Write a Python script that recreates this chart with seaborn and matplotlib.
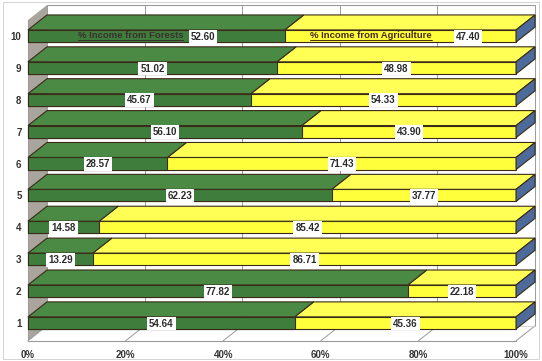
import matplotlib
matplotlib.use("Agg")
import matplotlib.pyplot as plt
import seaborn as sns
import pandas as pd
from matplotlib.patches import Polygon

# ---- data ----
categories = ["1", "2", "3", "4", "5", "6", "7", "8", "9", "10"]
forests = [54.64, 77.82, 13.29, 14.58, 62.23, 28.57, 56.10, 45.67, 51.02, 52.60]
agriculture = [45.36, 22.18, 86.71, 85.42, 37.77, 71.43, 43.90, 54.33, 48.98, 47.40]
x_ticks = [0, 20, 40, 60, 80, 100]
x_tick_labels = ["0%", "20%", "40%", "60%", "80%", "100%"]
series_names = ["% Income from Forests", "% Income from Agriculture"]

GREEN = "#3f7d3c"
GREEN_TOP = "#4a8a45"
YELLOW = "#ffff3c"
YELLOW_TOP = "#ffff55"
BLUE = "#4d6b9a"
EDGE = "#3a2a18"
WALL = "#a9a59c"
GRID = "#9a9a9a"

df = pd.DataFrame({"cat": categories, "forest": forests, "agri": agriculture})
df["total"] = df["forest"] + df["agri"]
order = categories[::-1]

sns.set_theme(style="white")
plt.rcParams["font.family"] = ["Liberation Sans", "DejaVu Sans"]

W, H = 542, 361
fig = plt.figure(figsize=(W / 100, H / 100), dpi=100)
ax_l, ax_r, ax_t, ax_b = 23, 538, 2, 343
ax = fig.add_axes([ax_l / W, 1 - ax_b / H, (ax_r - ax_l) / W, (ax_b - ax_t) / H])

bw = 0.38          # front-face height (category units)
dx, dy = 3.9, 0.47  # depth offset (data units)

sns.barplot(data=df, x="total", y="cat", order=order, orient="h", color=YELLOW,
            width=bw, edgecolor=EDGE, linewidth=0.8, saturation=1, ax=ax, zorder=3)
sns.barplot(data=df, x="forest", y="cat", order=order, orient="h", color=GREEN,
            width=bw, edgecolor=EDGE, linewidth=0.8, saturation=1, ax=ax, zorder=4)

ax.set_xlim(-1.02, 104.5)
y_front = 9.56
y_back_top = -0.97
ax.set_ylim(9.63, -1.066)

# back wall grid / frame
for xv in x_ticks:
    ax.plot([xv + dx, xv + dx], [y_front - dy, y_back_top], color=GRID, lw=0.7, zorder=1)
    ax.plot([xv, xv + dx], [y_front, y_front - dy], color=GRID, lw=0.7, zorder=1)
ax.plot([dx, 100 + dx], [y_back_top, y_back_top], color=GRID, lw=0.8, zorder=1)
ax.plot([0, 100], [y_front, y_front], color=GRID, lw=0.8, zorder=1)
ax.plot([dx, 100 + dx], [y_front - dy, y_front - dy], color="#d0d0d0", lw=0.6, zorder=1)
# left wall
ax.add_patch(Polygon([(0, y_front), (dx, y_front - dy), (dx, y_back_top), (0, y_back_top + dy)],
                     closed=True, facecolor=WALL, edgecolor="none", zorder=0.5))
ax.plot([0, 0], [y_front, y_back_top + dy], color=GRID, lw=0.7, zorder=1)

# 3D top faces and end caps
for i, cat in enumerate(order):
    row = df[df["cat"] == cat].iloc[0]
    f, t = row["forest"], row["total"]
    yt = i - bw / 2
    yb = i + bw / 2
    ax.add_patch(Polygon([(0, yt), (f, yt), (f + dx, yt - dy), (dx, yt - dy)], closed=True,
                         facecolor=GREEN_TOP, edgecolor=EDGE, lw=0.8, zorder=4))
    ax.add_patch(Polygon([(f, yt), (t, yt), (t + dx, yt - dy), (f + dx, yt - dy)], closed=True,
                         facecolor=YELLOW_TOP, edgecolor=EDGE, lw=0.8, zorder=3))
    ax.add_patch(Polygon([(t, yt), (t, yb), (t + dx, yb - dy), (t + dx, yt - dy)], closed=True,
                         facecolor=BLUE, edgecolor=EDGE, lw=0.8, zorder=3))

    # data labels
    lab_kw = dict(ha="center", va="center", fontsize=7, fontweight="bold", color="#2a2a2a",
                  zorder=6, bbox=dict(boxstyle="square,pad=0.2", fc="white", ec="none"))
    if cat == "10":
        xf, xa = 35.9, 90.2
        ax.text(21.0, i - 0.02, series_names[0], ha="center", va="center", fontsize=6.8,
                fontweight="bold", color="#3a3030", zorder=6)
        ax.plot([10.2, 31.8], [i + 0.13, i + 0.13], color="#3a3030", lw=0.7, zorder=6)
        ax.text(70.3, i - 0.02, series_names[1], ha="center", va="center", fontsize=6.8,
                fontweight="bold", color="#4a2a10", zorder=6)
        ax.plot([57.8, 82.8], [i + 0.13, i + 0.13], color="#4a2a10", lw=0.7, zorder=6)
    else:
        xf, xa = f / 2, f + (t - f) / 2
    ax.text(xf, i + 0.02, f"{f:.2f}", **lab_kw)
    ax.text(xa, i + 0.02, f"{row['agri']:.2f}", **lab_kw)

for s in ax.spines.values():
    s.set_visible(False)
ax.set_xticks(x_ticks)
ax.set_xticklabels(x_tick_labels, fontsize=7, fontweight="bold", color="#333333")
ax.tick_params(axis="x", length=0, pad=5)
ax.tick_params(axis="y", length=0, pad=1)
ax.set_yticks(range(len(order)))
ax.set_yticklabels(order, fontsize=7, fontweight="bold", color="#333333")
ax.set_xlabel("")
ax.set_ylabel("")
ax.grid(False)

# chart area border
fig.add_artist(plt.Rectangle((3 / W, 2 / H), 1 - 6 / W, 1 - 4 / H, transform=fig.transFigure,
                             fill=False, ec="#cccccc", lw=0.6))

fig.savefig("out.png", dpi=100)
